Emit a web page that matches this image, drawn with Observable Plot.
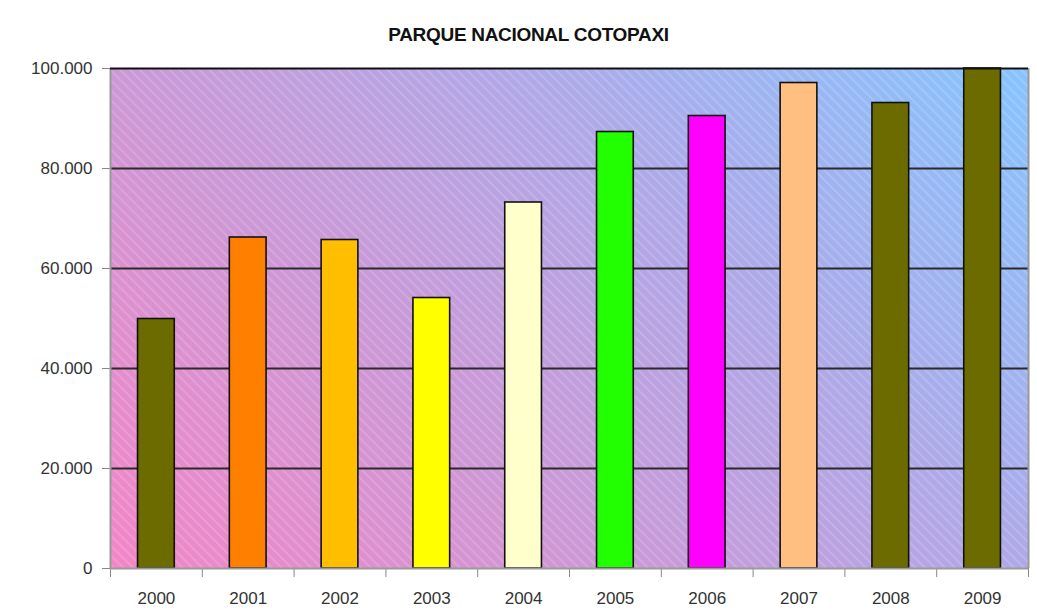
<!DOCTYPE html>
<html>
<head>
<meta charset="utf-8">
<script src="https://cdn.jsdelivr.net/npm/d3@7"></script>
<script src="https://cdn.jsdelivr.net/npm/@observablehq/plot@0.6"></script>
<style>
  body { margin: 0; background: #ffffff; }
  #title {
    width: 1037px; height: 50px; box-sizing: border-box; padding-top: 25px;
    text-align: center; font-family: 'Liberation Sans', Arial, sans-serif;
    font-weight: bold; font-size: 19px; line-height: 19px; color: #111;
    letter-spacing: -0.3px; padding-left: 20px;
  }
</style>
</head>
<body>
<div id="title">PARQUE NACIONAL COTOPAXI</div>
<div id="chart"></div>
<script>
const years = [2000, 2001, 2002, 2003, 2004, 2005, 2006, 2007, 2008, 2009];
const visitors = [49900, 66200, 65700, 54100, 73200, 87300, 90500, 97100, 93100, 100000];
const barColors = ["#6b6b00", "#ff8000", "#ffbf00", "#ffff00", "#ffffcc", "#22ff00", "#ff00ff", "#ffbf80", "#6b6b00", "#6b6b00"];
const yTicks = [0, 20000, 40000, 60000, 80000, 100000];

const data = years.map((y, i) => ({year: y, visitors: visitors[i], color: barColors[i]}));
const boundaries = years.map(y => y - 0.5).concat([years[years.length - 1] + 0.5]);
const fmt = d3.formatLocale({decimal: ",", thousands: ".", grouping: [3], currency: ["", ""]}).format(",");

const W = 1037, H = 565, mT = 18, mB = 47, mL = 110, mR = 9;

const chart = Plot.plot({
  width: W,
  height: H,
  marginTop: mT,
  marginBottom: mB,
  marginLeft: mL,
  marginRight: mR,
  style: {fontFamily: "'Liberation Sans', Arial, sans-serif", fontSize: "17px", color: "#333", background: "transparent"},
  x: {type: "linear", domain: [boundaries[0], boundaries[boundaries.length - 1]], label: null},
  y: {domain: [0, 100000], label: null, clamp: true},
  marks: [
    Plot.frame({fill: "url(#bgGrad)"}),
    Plot.frame({fill: "url(#hatch)"}),
    Plot.ruleY(yTicks.filter(t => t > 0 && t < 100000), {stroke: "#2a2a2a", strokeWidth: 2}),
    Plot.rectY(data, {x1: d => d.year - 0.2, x2: d => d.year + 0.2, y: "visitors", fill: "color", stroke: "#111", strokeWidth: 1.6}),
    Plot.axisY({ticks: yTicks, tickSize: 8, tickPadding: 10, tickFormat: fmt, stroke: "#888", fill: "#333"}),
    Plot.axisX({ticks: boundaries, tickSize: 9, tickFormat: () => "", stroke: "#888"}),
    Plot.axisX({ticks: years, tickSize: 0, tickPadding: 23, tickFormat: d => String(d), fill: "#333"}),
    Plot.ruleX([boundaries[0], boundaries[boundaries.length - 1]], {stroke: "#999", strokeWidth: 2}),
    Plot.ruleY([0], {stroke: "#999", strokeWidth: 2}),
    Plot.ruleY([100000], {stroke: "#111", strokeWidth: 2})
  ]
});

// background gradient at 45 degrees across the plot frame
const fw = W - mL - mR, fh = H - mT - mB;
const proj = (fw + fh) / 2;
const defs = d3.select(chart).insert("defs", ":first-child");
const grad = defs.append("linearGradient").attr("id", "bgGrad")
  .attr("gradientUnits", "userSpaceOnUse")
  .attr("x1", mL).attr("y1", mT + fh)
  .attr("x2", mL + proj).attr("y2", mT + fh - proj);
grad.append("stop").attr("offset", "0%").attr("stop-color", "#f386c6");
grad.append("stop").attr("offset", "35%").attr("stop-color", "#cc98d6");
grad.append("stop").attr("offset", "65%").attr("stop-color", "#afa9e8");
grad.append("stop").attr("offset", "100%").attr("stop-color", "#86c4fe");
const pat = defs.append("pattern").attr("id", "hatch")
  .attr("patternUnits", "userSpaceOnUse").attr("width", 7).attr("height", 7)
  .attr("patternTransform", "rotate(-45)");
pat.append("line").attr("x1", 1).attr("y1", 0).attr("x2", 1).attr("y2", 7)
  .attr("stroke", "#ffffff").attr("stroke-opacity", 0.3).attr("stroke-width", 1);

document.getElementById("chart").appendChild(chart);
</script>
</body>
</html>
